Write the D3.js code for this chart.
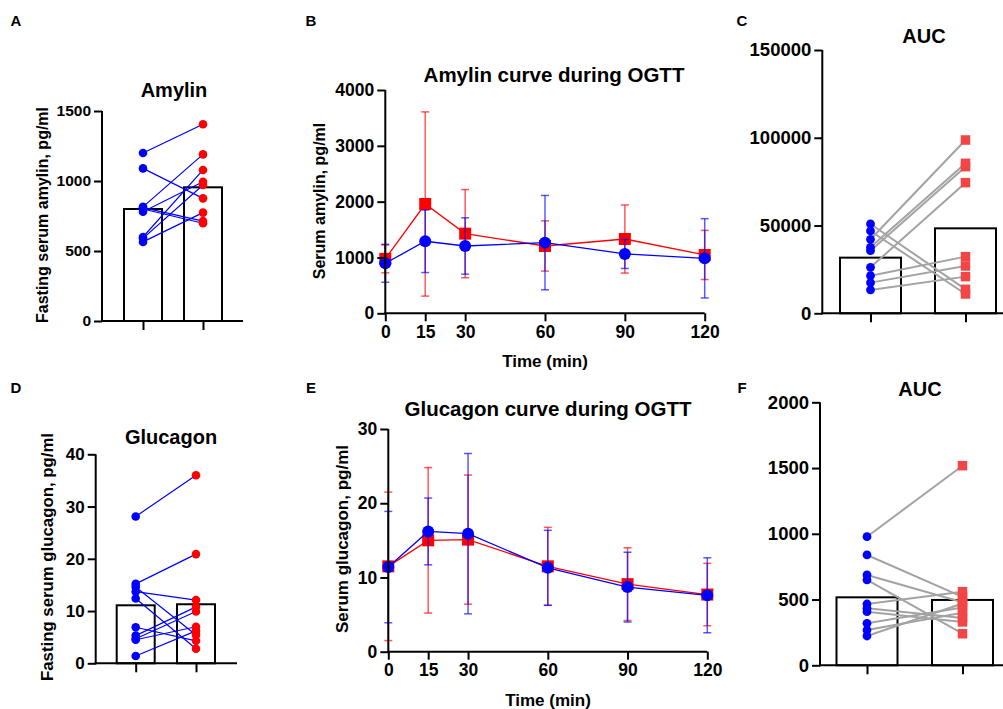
<!DOCTYPE html>
<html>
<head>
<meta charset="utf-8">
<script src="https://cdn.jsdelivr.net/npm/d3@7/dist/d3.min.js"></script>
<style>
  body { margin: 0; background: #fff; }
  text { font-family: "Liberation Sans", Arial, sans-serif; font-weight: bold; fill: #000; }
</style>
</head>
<body>
<div id="container"></div>
<script>
const width = 1003;
const height = 709;

// ---- data ----
const groups = ["blue", "red"];
const timePoints = [0, 15, 30, 60, 90, 120];

// A: fasting amylin, paired (blue -> red)
const amylinBlue = [1200, 1090, 815, 810, 800, 780, 600, 590, 565];
const amylinRed  = [1405, 876, 1190, 714, 698, 995, 1079, 971, 774];
const amylinBars = [800, 955];

// B: amylin during OGTT (mean, SD)
const amylinCurveRed     = [975, 1958, 1427, 1206, 1331, 1045];
const amylinCurveRedSd   = [250, 1650, 790, 450, 610, 440];
const amylinCurveBlue    = [896, 1290, 1206, 1266, 1063, 985];
const amylinCurveBlueSd  = [340, 560, 505, 845, 260, 710];

// C: amylin AUC, paired
const amylinAucBlue = [50900, 46900, 42150, 37600, 35700, 26200, 21450, 17470, 13290];
const amylinAucRed  = [13670, 11010, 98730, 85440, 83540, 74430, 32280, 26960, 20890];
const amylinAucBars = [31700, 48400];

// D: fasting glucagon, paired
const glucagonBlue = [28.1, 15.2, 14.6, 13.7, 12.4, 6.9, 5.3, 4.7, 4.5, 1.4];
const glucagonRed  = [36.0, 20.9, 5.4, 12.1, 2.8, 4.3, 10.8, 9.9, 7.0, 6.2];
const glucagonBars = [11.1, 11.3];

// E: glucagon during OGTT (mean, SD)
const glucagonCurveRed    = [11.5, 15.0, 15.1, 11.5, 9.1, 7.7];
const glucagonCurveRedSd  = [10.0, 9.8, 8.7, 5.25, 4.9, 4.2];
const glucagonCurveBlue   = [11.4, 16.2, 15.9, 11.3, 8.7, 7.6];
const glucagonCurveBlueSd = [7.5, 4.5, 10.8, 5.05, 4.7, 5.05];

// F: glucagon AUC, paired
const glucagonAucBlue = [978, 839, 687, 649, 466, 433, 408, 319, 268, 223];
const glucagonAucRed  = [1518, 520, 480, 240, 560, 360, 330, 440, 400, 470];
const glucagonAucBars = [517, 497];

const BLUE = "#0000ff";
const RED = "#ff0000";
const RED_SQ = "#f24545";
const GREY = "#a3a3a3";

const svg = d3.select("div#container")
    .append("svg")
    .attr("width", width)
    .attr("height", height)
    .attr("viewBox", [0, 0, width, height]);

function styleAxis(g, fs) {
    g.select(".domain").attr("stroke", "#000").attr("stroke-width", 2);
    g.selectAll(".tick line").attr("stroke", "#000").attr("stroke-width", 2);
    g.selectAll(".tick text")
        .style("font-size", fs + "px")
        .style("font-weight", "bold")
        .style("font-family", '"Liberation Sans", Arial, sans-serif')
        .attr("fill", "#000");
}

function label(x, y, txt, size, rotate) {
    const t = svg.append("text")
        .attr("text-anchor", "middle")
        .attr("dominant-baseline", "central")
        .style("font-size", size + "px")
        .text(txt);
    if (rotate) t.attr("transform", `translate(${x},${y}) rotate(-90)`);
    else t.attr("x", x).attr("y", y);
    return t;
}

// paired before/after panel with bars
function pairPanel(p) {
    const y = d3.scaleLinear().domain([0, p.max]).range([p.y0, p.yTop]);
    const x = d3.scalePoint().domain(groups).range(p.centers);
    const g = svg.append("g");

    // bars
    g.selectAll("rect.bar")
        .data(p.bars)
        .join("rect")
        .attr("x", (d, i) => x(groups[i]) - p.barW / 2)
        .attr("y", d => y(d))
        .attr("width", p.barW)
        .attr("height", d => y(0) - y(d))
        .attr("fill", "none")
        .attr("stroke", "#000")
        .attr("stroke-width", 2);

    // pairing lines
    const pairs = p.a.map((v, i) => [v, p.b[i]]);
    g.selectAll("line.pair")
        .data(pairs)
        .join("line")
        .attr("x1", x("blue")).attr("x2", x("red"))
        .attr("y1", d => y(d[0])).attr("y2", d => y(d[1]))
        .attr("stroke", p.lineColor)
        .attr("stroke-width", p.lineW);

    // points
    g.selectAll("circle.a")
        .data(p.a)
        .join("circle")
        .attr("cx", x("blue")).attr("cy", d => y(d))
        .attr("r", p.r)
        .attr("fill", BLUE);
    if (p.redSquare) {
        g.selectAll("rect.b")
            .data(p.b)
            .join("rect")
            .attr("x", x("red") - p.sq / 2).attr("y", d => y(d) - p.sq / 2)
            .attr("width", p.sq).attr("height", p.sq)
            .attr("fill", RED_SQ);
    } else {
        g.selectAll("circle.b")
            .data(p.b)
            .join("circle")
            .attr("cx", x("red")).attr("cy", d => y(d))
            .attr("r", p.r)
            .attr("fill", RED);
    }

    // axes
    const ya = svg.append("g")
        .attr("transform", `translate(${p.axisX},0)`)
        .call(d3.axisLeft(y).tickValues(p.ticks).tickSize(8).tickSizeOuter(0).tickPadding(3).tickFormat(d3.format("d")));
    ya.select(".domain").attr("d", `M0,${p.y0 + 1}V${p.yTop}`);
    styleAxis(ya, p.fs);

    svg.append("line")
        .attr("x1", p.axisX - 1).attr("x2", p.xEnd)
        .attr("y1", p.y0).attr("y2", p.y0)
        .attr("stroke", "#000").attr("stroke-width", 2);
    const xa = svg.append("g")
        .attr("transform", `translate(0,${p.y0})`)
        .call(d3.axisBottom(x).tickSize(9).tickFormat(""));
    xa.select(".domain").remove();
    styleAxis(xa, p.fs);
}

// time-course panel with mean ± SD
function curvePanel(p) {
    const x = d3.scaleLinear().domain([0, 120]).range([p.x0, p.x1]);
    const y = d3.scaleLinear().domain([0, p.max]).range([p.y0, p.yTop]);
    const g = svg.append("g");

    const series = [
        { mean: p.red, sd: p.redSd, color: RED, shape: "square" },
        { mean: p.blue, sd: p.blueSd, color: BLUE, shape: "circle" }
    ];

    series.forEach(s => {
        const pts = timePoints.map((t, i) => ({ t, m: s.mean[i], sd: s.sd[i] }));
        const eb = g.append("g").attr("stroke", s.color).attr("stroke-opacity", 0.65).attr("stroke-width", 1.5);
        eb.selectAll("line.v").data(pts).join("line")
            .attr("x1", d => x(d.t)).attr("x2", d => x(d.t))
            .attr("y1", d => y(Math.max(0, d.m - d.sd))).attr("y2", d => y(d.m + d.sd));
        eb.selectAll("line.top").data(pts).join("line")
            .attr("x1", d => x(d.t) - 4).attr("x2", d => x(d.t) + 4)
            .attr("y1", d => y(d.m + d.sd)).attr("y2", d => y(d.m + d.sd));
        eb.selectAll("line.bot").data(pts.filter(d => d.m - d.sd > 0)).join("line")
            .attr("x1", d => x(d.t) - 4).attr("x2", d => x(d.t) + 4)
            .attr("y1", d => y(d.m - d.sd)).attr("y2", d => y(d.m - d.sd));

        g.append("path")
            .datum(pts)
            .attr("fill", "none")
            .attr("stroke", s.color)
            .attr("stroke-width", 1.3)
            .attr("d", d3.line().x(d => x(d.t)).y(d => y(d.m)));

        if (s.shape === "square") {
            g.selectAll(null).data(pts).join("rect")
                .attr("x", d => x(d.t) - 6).attr("y", d => y(d.m) - 6)
                .attr("width", 12).attr("height", 12)
                .attr("fill", s.color);
        } else {
            g.selectAll(null).data(pts).join("circle")
                .attr("cx", d => x(d.t)).attr("cy", d => y(d.m))
                .attr("r", 6)
                .attr("fill", s.color);
        }
    });

    const ya = svg.append("g")
        .attr("transform", `translate(${p.x0},0)`)
        .call(d3.axisLeft(y).tickValues(p.ticks).tickSize(8).tickSizeOuter(0).tickPadding(3).tickFormat(d3.format("d")));
    ya.select(".domain").attr("d", `M0,${p.y0 + 1}V${p.yTop}`);
    styleAxis(ya, p.fs);

    const xa = svg.append("g")
        .attr("transform", `translate(0,${p.y0})`)
        .call(d3.axisBottom(x).tickValues(timePoints).tickSize(8).tickSizeOuter(0).tickPadding(4).tickFormat(d3.format("d")));
    xa.select(".domain").attr("d", `M${p.x0 - 1},0H${p.x1}`);
    styleAxis(xa, p.fs);
}

// ---- panels ----
pairPanel({ a: amylinBlue, b: amylinRed, bars: amylinBars, max: 1500, ticks: [0, 500, 1000, 1500],
    y0: 321, yTop: 111, axisX: 102, xEnd: 243, centers: [143, 203], barW: 38,
    r: 4.3, lineColor: BLUE, lineW: 1.2, redSquare: false, fs: 15.5 });

curvePanel({ red: amylinCurveRed, redSd: amylinCurveRedSd, blue: amylinCurveBlue, blueSd: amylinCurveBlueSd,
    max: 4000, ticks: [0, 1000, 2000, 3000, 4000], x0: 385.3, x1: 704.7, y0: 313.3, yTop: 90, fs: 17.5 });

pairPanel({ a: amylinAucBlue, b: amylinAucRed, bars: amylinAucBars, max: 150000, ticks: [0, 50000, 100000, 150000],
    y0: 313.3, yTop: 50, axisX: 822.3, xEnd: 1003, centers: [870.5, 965.5], barW: 61,
    r: 4.4, sq: 9.5, lineColor: GREY, lineW: 2, redSquare: true, fs: 18.5 });

pairPanel({ a: glucagonBlue, b: glucagonRed, bars: glucagonBars, max: 40, ticks: [0, 10, 20, 30, 40],
    y0: 663.3, yTop: 454.3, axisX: 95.7, xEnd: 237, centers: [135.7, 196], barW: 38,
    r: 4.3, lineColor: BLUE, lineW: 1.2, redSquare: false, fs: 17 });

curvePanel({ red: glucagonCurveRed, redSd: glucagonCurveRedSd, blue: glucagonCurveBlue, blueSd: glucagonCurveBlueSd,
    max: 30, ticks: [0, 10, 20, 30], x0: 388.3, x1: 707.3, y0: 651.7, yTop: 429, fs: 17.5 });

pairPanel({ a: glucagonAucBlue, b: glucagonAucRed, bars: glucagonAucBars, max: 2000, ticks: [0, 500, 1000, 1500, 2000],
    y0: 665.3, yTop: 402.3, axisX: 820, xEnd: 1003, centers: [867, 962.5], barW: 61,
    r: 4.4, sq: 9.5, lineColor: GREY, lineW: 2, redSquare: true, fs: 18.5 });

// ---- titles and labels ----
label(174, 90, "Amylin", 20);
label(554, 74, "Amylin curve during OGTT", 20.5);
label(924, 36, "AUC", 20);
label(171, 437, "Glucagon", 20);
label(548, 408, "Glucagon curve during OGTT", 20.5);
label(920, 389, "AUC", 20);

label(42, 215, "Fasting serum amylin, pg/ml", 16, true);
label(319, 201, "Serum amylin, pg/ml", 16, true);
label(47, 557, "Fasting serum glucagon, pg/ml", 16.8, true);
label(342, 539, "Serum glucagon, pg/ml", 17, true);
label(545, 361, "Time (min)", 17);
label(548, 700, "Time (min)", 17);

label(16, 20, "A", 15);
label(311, 20, "B", 15);
label(742, 20, "C", 15);
label(16, 387, "D", 15);
label(311, 387, "E", 15);
label(742, 387, "F", 15);
</script>
</body>
</html>
